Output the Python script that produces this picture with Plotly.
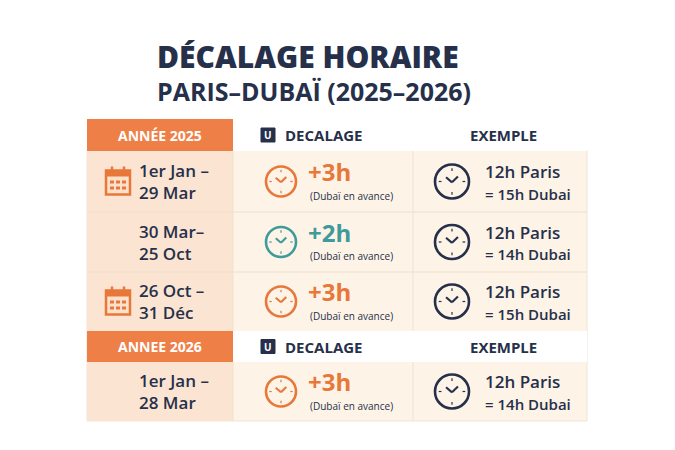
import plotly.graph_objects as go
import math

title1 = "DÉCALAGE HORAIRE"
title2 = "PARIS–DUBAÏ (2025–2026)"
year_headers = ["ANNÉE 2025", "ANNEE 2026"]
col_headers = ["DECALAGE", "EXEMPLE"]
periods = ["1er Jan –<br>29 Mar", "30 Mar–<br>25 Oct", "26 Oct –<br>31 Déc", "1er Jan –<br>28 Mar"]
offsets = ["+3h", "+2h", "+3h", "+3h"]
offset_note = "(Dubaï en avance)"
paris_txt = ["12h Paris", "12h Paris", "12h Paris", "12h Paris"]
dubai_txt = ["= 15h Dubai", "= 14h Dubai", "= 15h Dubai", "= 14h Dubai"]
has_calendar = [True, False, True, False]
offset_colors = ["#e8773a", "#3f9b9b", "#e8773a", "#e8773a"]

NAVY = "#26304a"
ORANGE = "#ee8047"
FONT = "Open Sans"

fig = go.Figure()
shapes = []
ann = []

def text(x, y, t, size, color=NAVY, anchor="left", weight=700):
    ann.append(dict(x=x, y=y, xref="x", yref="y", text=t,
                    showarrow=False, xanchor=anchor, yanchor="middle",
                    font=dict(family=FONT, size=size, color=color, weight=weight), align="left"))

def rect(x0, y0, x1, y1, fill, line=None, lw=0):
    shapes.append(dict(type="rect", x0=x0, y0=y0, x1=x1, y1=y1, xref="x", yref="y",
                       fillcolor=fill, line=dict(color=line or fill, width=lw), layer="below"))

def line(x0, y0, x1, y1, color, w):
    shapes.append(dict(type="line", x0=x0, y0=y0, x1=x1, y1=y1, xref="x", yref="y",
                       line=dict(color=color, width=w)))

def clock(cx, cy, r, color, w):
    shapes.append(dict(type="circle", x0=cx - r, y0=cy - r, x1=cx + r, y1=cy + r,
                       xref="x", yref="y", line=dict(color=color, width=w)))
    for a in range(4):
        ang = a * math.pi / 2
        dx, dy = math.sin(ang), -math.cos(ang)
        line(cx + dx * r * 0.62, cy + dy * r * 0.62, cx + dx * r * 0.78, cy + dy * r * 0.78, color, 1.2)
    line(cx - r * 0.35, cy - r * 0.25, cx, cy + r * 0.05, color, w * 0.8)
    line(cx, cy + r * 0.05, cx + r * 0.35, cy - r * 0.3, color, w * 0.8)

def calendar(cx, cy):
    shapes.append(dict(type="rect", x0=cx - 12, y0=cy - 11, x1=cx + 12, y1=cy + 13, xref="x", yref="y",
                       fillcolor="#fbe0cc", line=dict(color="#e8773a", width=2.5)))
    rect(cx - 12, cy - 11, cx + 12, cy - 5, "#e8773a")
    shapes[-1]["layer"] = "above"
    line(cx - 6, cy - 15, cx - 6, cy - 9, "#e8773a", 2.5)
    line(cx + 6, cy - 15, cx + 6, cy - 9, "#e8773a", 2.5)
    for i in (-1, 0, 1):
        for j in (0, 1):
            rect(cx + i * 6 - 2, cy + j * 6 - 1, cx + i * 6 + 2, cy + j * 6 + 2, "#e8773a")
            shapes[-1]["layer"] = "above"

def u_icon(x, y):
    shapes.append(dict(type="rect", x0=x - 7, y0=y - 7, x1=x + 7, y1=y + 7, xref="x", yref="y",
                       fillcolor=NAVY, line=dict(color=NAVY, width=1)))
    text(x, y, "U", 10, "white", "center")

# titles
text(155, 56, title1, 30, weight=800)
text(155, 91, title2, 25, weight=700)

# table background
rect(87, 150, 587, 421, "#fdf3e6", "#f0e4d4", 1)
rect(87, 150, 233, 421, "#fbe4d2")

row_y = [(151, 212), (212, 272), (272, 331), (362, 421)]
header_y = [(119, 151), (331, 362)]

for k, (y0, y1) in enumerate(header_y):
    rect(233, y0, 587, y1, "white")
    rect(87, y0, 233, y1, ORANGE)
    yc = (y0 + y1) / 2
    text(160, yc, year_headers[k], 14, "white", "center")
    u_icon(268, yc)
    text(283, yc, col_headers[0], 15)
    text(503, yc, col_headers[1], 15, anchor="center")

for i, (y0, y1) in enumerate(row_y):
    yc = (y0 + y1) / 2
    if i > 0 and i != 3:
        line(87, y0, 587, y0, "#efdfcc", 1)
    line(233, y0, 233, y1, "#efe2d2", 1)
    line(413, y0, 413, y1, "#efe2d2", 1)
    if has_calendar[i]:
        calendar(118, yc)
    text(137, yc, periods[i], 17, weight=600)
    clock(281, yc, 15, offset_colors[i], 2.6)
    text(306, yc - 10, offsets[i], 24, offset_colors[i])
    text(308, yc + 14, offset_note, 10, NAVY, weight=400)
    clock(452, yc, 17, NAVY, 2.6)
    text(483, yc - 10, paris_txt[i], 17, weight=600)
    text(483, yc + 12, dubai_txt[i], 15, weight=600)

fig.add_trace(go.Scatter(x=[8, 683], y=[8, 458], mode="markers", marker=dict(opacity=0), hoverinfo="skip"))
fig.update_layout(width=675, height=450, margin=dict(l=0, r=0, t=0, b=0),
                  paper_bgcolor="white", plot_bgcolor="white", showlegend=False,
                  shapes=shapes, annotations=ann,
                  xaxis=dict(range=[8, 683], visible=False, fixedrange=True),
                  yaxis=dict(range=[458, 8], visible=False, fixedrange=True))
fig.write_html("out.html")
